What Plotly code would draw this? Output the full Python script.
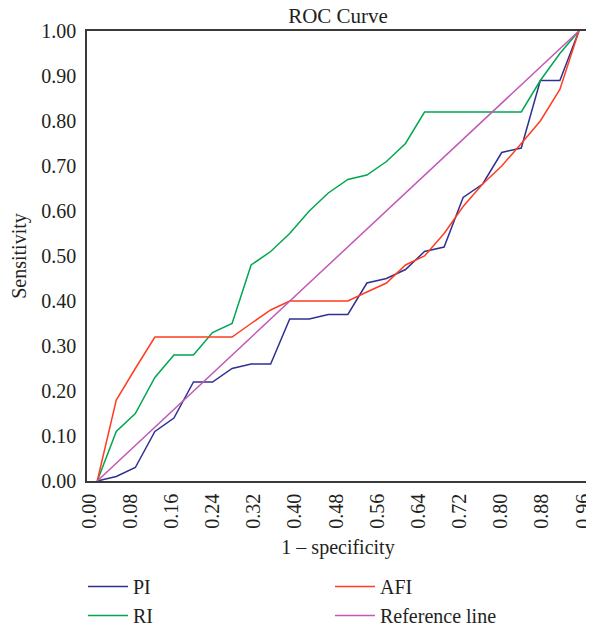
import plotly.graph_objects as go

# x positions of the ROC points (in the axis' tick units)
x_points = [0.016, 0.053, 0.090, 0.128, 0.165, 0.203, 0.240, 0.278, 0.315, 0.353,
            0.390, 0.428, 0.465, 0.503, 0.540, 0.578, 0.615, 0.652, 0.690, 0.727,
            0.765, 0.802, 0.840, 0.877, 0.915, 0.952]

pi_values = [0.00, 0.01, 0.03, 0.11, 0.14, 0.22, 0.22, 0.25, 0.26, 0.26,
             0.36, 0.36, 0.37, 0.37, 0.44, 0.45, 0.47, 0.51, 0.52, 0.63,
             0.66, 0.73, 0.74, 0.89, 0.89, 1.00]

afi_values = [0.00, 0.18, 0.25, 0.32, 0.32, 0.32, 0.32, 0.32, 0.35, 0.38,
              0.40, 0.40, 0.40, 0.40, 0.42, 0.44, 0.48, 0.50, 0.55, 0.61,
              0.66, 0.70, 0.75, 0.80, 0.87, 1.00]

ri_values = [0.00, 0.11, 0.15, 0.23, 0.28, 0.28, 0.33, 0.35, 0.48, 0.51,
             0.55, 0.60, 0.64, 0.67, 0.68, 0.71, 0.75, 0.82, 0.82, 0.82,
             0.82, 0.82, 0.82, 0.89, 0.95, 1.00]

ref_x = [0.016, 0.952]
ref_y = [0.00, 1.00]

x_ticks = [0.00, 0.08, 0.16, 0.24, 0.32, 0.40, 0.48, 0.56, 0.64, 0.72, 0.80, 0.88, 0.96]
y_ticks = [0.00, 0.10, 0.20, 0.30, 0.40, 0.50, 0.60, 0.70, 0.80, 0.90, 1.00]

FONT = "Liberation Serif"
TXT = "#231f20"
FS = 20

fig = go.Figure()
fig.add_trace(go.Scatter(x=x_points, y=pi_values, mode="lines", name="PI",
                         legend="legend", legendrank=1,
                         line=dict(color="#2e3192", width=1.5)))
fig.add_trace(go.Scatter(x=x_points, y=ri_values, mode="lines", name="RI",
                         legend="legend", legendrank=2,
                         line=dict(color="#00a651", width=1.5)))
fig.add_trace(go.Scatter(x=x_points, y=afi_values, mode="lines", name="AFI",
                         legend="legend2", legendrank=1,
                         line=dict(color="#ff3d1f", width=1.5)))
fig.add_trace(go.Scatter(x=ref_x, y=ref_y, mode="lines", name="Reference line",
                         legend="legend2", legendrank=2,
                         line=dict(color="#c259b6", width=1.5)))

legend_common = dict(orientation="v", yanchor="top", y=-0.191,
                     font=dict(family=FONT, size=FS, color=TXT),
                     bgcolor="rgba(0,0,0,0)", itemwidth=40, tracegroupgap=0)

# the page body adds an 8 px offset, so the figure is sized to fit the window
fig.update_layout(
    width=586, height=619,
    margin=dict(l=79, r=5, t=23, b=146, autoexpand=False),
    paper_bgcolor="white", plot_bgcolor="white",
    font=dict(family=FONT, size=FS, color=TXT),
    title=dict(text="ROC Curve", x=0.5, xref="paper", xanchor="center",
               y=1, yref="container", yanchor="top", pad=dict(t=0),
               automargin=False,
               font=dict(family=FONT, size=21, color=TXT)),
    showlegend=True,
    legend=dict(x=-0.008, xanchor="left", **legend_common),
    legend2=dict(x=0.484, xanchor="left", **legend_common),
)
fig.update_xaxes(range=[-0.0039, 0.9716], tickvals=x_ticks,
                 ticktext=[f"{v:.2f}" for v in x_ticks], tickangle=-90,
                 automargin=False, ticklabeloverflow="allow",
                 showgrid=False, zeroline=False, showline=True, mirror=True,
                 linecolor="#3a3a3a", linewidth=1.5, ticks="", ticklabelstandoff=3,
                 tickfont=dict(family=FONT, size=FS, color=TXT),
                 title=dict(text="1 – specificity", standoff=12,
                            font=dict(family=FONT, size=FS, color=TXT)))
fig.update_yaxes(range=[0, 1.0], tickvals=y_ticks,
                 ticktext=[f"{v:.2f}" for v in y_ticks],
                 automargin=False, ticklabeloverflow="allow",
                 showgrid=False, zeroline=False, showline=True, mirror=True,
                 linecolor="#3a3a3a", linewidth=1.5, ticks="", ticklabelstandoff=5,
                 tickfont=dict(family=FONT, size=FS, color=TXT),
                 title=dict(text="Sensitivity", standoff=18,
                            font=dict(family=FONT, size=FS, color=TXT)))

fig.write_html("out.html")
